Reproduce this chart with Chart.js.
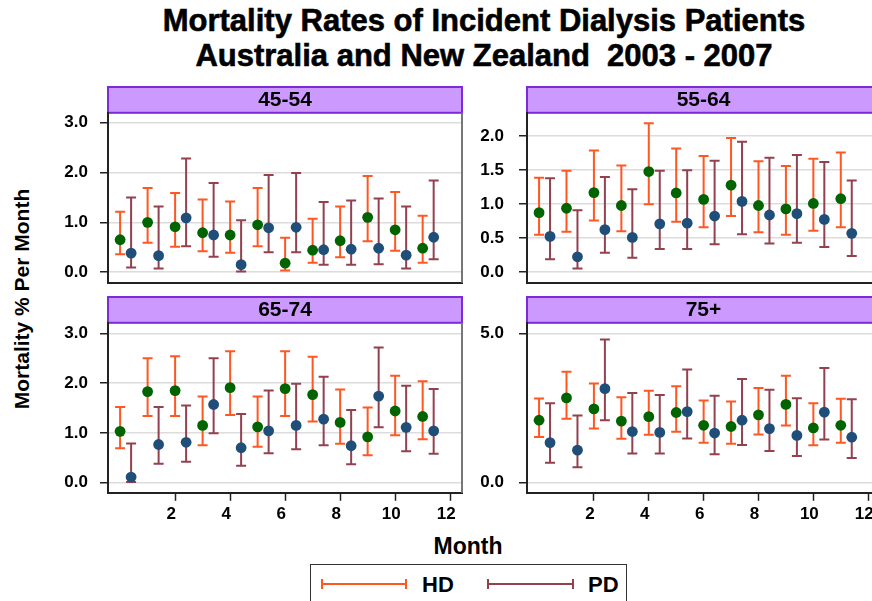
<!DOCTYPE html>
<html><head><meta charset="utf-8">
<script src="https://cdn.jsdelivr.net/npm/chart.js@4/dist/chart.umd.min.js"></script>
<style>
html,body{margin:0;padding:0;background:#fff;overflow:hidden;}
#wrap{position:relative;width:872px;height:601px;overflow:hidden;font-family:"Liberation Sans",Arial,Helvetica,sans-serif;}
.t{position:absolute;font-weight:bold;color:#000;white-space:nowrap;}
canvas{position:absolute;}
#legend{position:absolute;left:310px;top:564px;width:317px;height:60px;border:1px solid #333;box-sizing:border-box;}
.ln{position:absolute;height:2px;top:18px;}
.cap{position:absolute;width:2px;height:10px;top:-4px;}
</style></head><body>
<div id="wrap">
  <div class="t" style="left:0;top:3px;width:968px;text-align:center;font-size:31px;line-height:35px;-webkit-text-stroke:0.6px #000;">Mortality Rates of Incident Dialysis Patients<br>Australia and New Zealand&nbsp; 2003 - 2007</div>
  <div class="t" style="left:22px;top:299px;transform:translate(-50%,-50%) rotate(-90deg);font-size:21px;">Mortality % Per Month</div>
  <canvas id="c1" width="470" height="223" style="left:0;top:86px;"></canvas>
  <canvas id="c2" width="420" height="223" style="left:470px;top:86px;"></canvas>
  <canvas id="c3" width="470" height="227" style="left:0;top:296px;"></canvas>
  <canvas id="c4" width="420" height="227" style="left:470px;top:296px;"></canvas>
  <div class="t" style="left:468px;top:546px;transform:translate(-50%,-50%);font-size:23px;">Month</div>
  <div id="legend">
    <div class="ln" style="left:10px;width:86px;background:#FF5722;"><div class="cap" style="left:0;background:#FF5722;"></div><div class="cap" style="right:0;background:#FF5722;"></div></div>
    <div class="t" style="left:111px;top:7px;font-size:22px;">HD</div>
    <div class="ln" style="left:176px;width:87px;background:#93404F;"><div class="cap" style="left:0;background:#93404F;"></div><div class="cap" style="right:0;background:#93404F;"></div></div>
    <div class="t" style="left:277px;top:7px;font-size:22px;">PD</div>
  </div>
</div>
<script>
// ---- data ----
const panelLabels = ['45-54', '55-64', '65-74', '75+'];
const monthsHD = [0, 1, 2, 3, 4, 5, 6, 7, 8, 9, 10, 11];
const monthsPD = [0.4, 1.4, 2.4, 3.4, 4.4, 5.4, 6.4, 7.4, 8.4, 9.4, 10.4, 11.4];
const xTickValues = [2, 4, 6, 8, 10, 12];

const yTicks_45_54 = [0, 1, 2, 3];
const yTicks_55_64 = [0, 0.5, 1, 1.5, 2];
const yTicks_65_74 = [0, 1, 2, 3];
const yTicks_75 = [0, 5];

const hd_45_54     = [0.65, 1.00, 0.91, 0.79, 0.745, 0.95, 0.18, 0.44, 0.63, 1.10, 0.85, 0.48];
const hdLow_45_54  = [0.36, 0.59, 0.51, 0.42, 0.39, 0.52, 0.03, 0.19, 0.30, 0.62, 0.43, 0.19];
const hdHigh_45_54 = [1.21, 1.69, 1.59, 1.46, 1.42, 1.69, 0.69, 1.07, 1.32, 1.93, 1.61, 1.13];
const pd_45_54     = [0.38, 0.33, 1.09, 0.745, 0.15, 0.89, 0.90, 0.45, 0.46, 0.48, 0.34, 0.70];
const pdLow_45_54  = [0.09, 0.07, 0.52, 0.31, 0.01, 0.40, 0.40, 0.15, 0.15, 0.16, 0.07, 0.26];
const pdHigh_45_54 = [1.50, 1.32, 2.28, 1.79, 1.04, 1.95, 1.99, 1.41, 1.44, 1.48, 1.32, 1.84];

const hd_55_64     = [0.875, 0.94, 1.17, 0.98, 1.48, 1.165, 1.07, 1.28, 0.98, 0.93, 1.01, 1.08];
const hdLow_55_64  = [0.55, 0.595, 0.76, 0.60, 1.00, 0.74, 0.66, 0.825, 0.585, 0.55, 0.61, 0.66];
const hdHigh_55_64 = [1.39, 1.49, 1.79, 1.57, 2.19, 1.82, 1.71, 1.975, 1.63, 1.56, 1.67, 1.76];
const pd_55_64     = [0.525, 0.225, 0.625, 0.51, 0.71, 0.72, 0.825, 1.04, 0.84, 0.86, 0.775, 0.57];
const pdLow_55_64  = [0.19, 0.054, 0.285, 0.21, 0.34, 0.34, 0.41, 0.555, 0.42, 0.43, 0.37, 0.235];
const pdHigh_55_64 = [1.38, 0.91, 1.40, 1.22, 1.49, 1.50, 1.64, 1.92, 1.685, 1.725, 1.62, 1.35];

const hd_65_74     = [1.03, 1.83, 1.85, 1.15, 1.91, 1.12, 1.89, 1.77, 1.21, 0.92, 1.44, 1.33];
const hdLow_65_74  = [0.69, 1.34, 1.34, 0.75, 1.36, 0.72, 1.34, 1.23, 0.78, 0.55, 0.95, 0.87];
const hdHigh_65_74 = [1.52, 2.50, 2.54, 1.73, 2.64, 1.73, 2.64, 2.53, 1.87, 1.51, 2.15, 2.04];
const pd_65_74     = [0.11, 0.765, 0.81, 1.57, 0.70, 1.04, 1.15, 1.275, 0.74, 1.74, 1.11, 1.04];
const pdLow_65_74  = [0.01, 0.38, 0.42, 0.99, 0.34, 0.59, 0.67, 0.75, 0.37, 1.11, 0.63, 0.58];
const pdHigh_65_74 = [0.785, 1.52, 1.55, 2.50, 1.38, 1.85, 1.99, 2.13, 1.46, 2.72, 1.95, 1.88];

const hd_75     = [2.09, 2.84, 2.47, 2.06, 2.21, 2.35, 1.92, 1.88, 2.27, 2.62, 1.83, 1.92];
const hdLow_75  = [1.53, 2.14, 1.81, 1.47, 1.60, 1.70, 1.33, 1.30, 1.61, 1.91, 1.25, 1.33];
const hdHigh_75 = [2.82, 3.72, 3.32, 2.86, 3.08, 3.23, 2.75, 2.72, 3.17, 3.58, 2.66, 2.81];
const pd_75     = [1.34, 1.085, 3.15, 1.71, 1.68, 2.38, 1.66, 2.09, 1.81, 1.58, 2.36, 1.52];
const pdLow_75  = [0.66, 0.51, 2.09, 0.97, 0.97, 1.48, 0.95, 1.26, 1.06, 0.89, 1.44, 0.82];
const pdHigh_75 = [2.66, 2.25, 4.80, 3.00, 2.94, 3.79, 2.91, 3.47, 3.11, 2.83, 3.84, 2.79];

// ---- styles ----
const FONT = '"Liberation Sans", Arial, Helvetica, sans-serif';
const HD_PT = '#006400', HD_BAR = '#FF5722';
const PD_PT = '#1F4E79', PD_BAR = '#93404F';

const stripPlugin = {
  id: 'strip',
  beforeDraw(chart) {
    const {ctx, chartArea: a} = chart;
    ctx.save();
    ctx.fillStyle = '#CC99FF';
    ctx.fillRect(a.left, 0, a.right - a.left, a.top);
    ctx.strokeStyle = '#7B2BD9';
    ctx.lineWidth = 2;
    ctx.strokeRect(a.left, 1, a.right - a.left, a.top - 1);
    ctx.restore();
  },
  afterDraw(chart) {
    const {ctx, chartArea: a} = chart;
    ctx.save();
    ctx.strokeStyle = '#777';
    ctx.lineWidth = 2;
    ctx.beginPath();
    ctx.moveTo(a.right, a.top);
    ctx.lineTo(a.right, a.bottom);
    ctx.stroke();
    ctx.restore();
  }
};

const errorBarPlugin = {
  id: 'errorBars',
  beforeDatasetsDraw(chart) {
    const {ctx, scales: {x, y}} = chart;
    chart.data.datasets.forEach(ds => {
      ctx.save();
      ctx.strokeStyle = ds.barColor;
      ctx.lineWidth = 2;
      ds.data.forEach((pt, i) => {
        const px = x.getPixelForValue(pt.x);
        const lo = y.getPixelForValue(ds.low[i]);
        const hi = y.getPixelForValue(ds.high[i]);
        ctx.beginPath();
        ctx.moveTo(px, lo); ctx.lineTo(px, hi);
        ctx.moveTo(px - 5, lo); ctx.lineTo(px + 5, lo);
        ctx.moveTo(px - 5, hi); ctx.lineTo(px + 5, hi);
        ctx.stroke();
      });
      ctx.restore();
    });
  }
};

function makePanel(id, c) {
  new Chart(document.getElementById(id), {
    type: 'scatter',
    data: {
      datasets: [
        {label: 'HD', data: monthsHD.map((m, i) => ({x: m, y: c.hd[i]})), low: c.hdLow, high: c.hdHigh,
         barColor: HD_BAR, backgroundColor: HD_PT, borderColor: HD_PT, pointRadius: 5.4, borderWidth: 0},
        {label: 'PD', data: monthsPD.map((m, i) => ({x: m, y: c.pd[i]})), low: c.pdLow, high: c.pdHigh,
         barColor: PD_BAR, backgroundColor: PD_PT, borderColor: PD_PT, pointRadius: 5.4, borderWidth: 0}
      ]
    },
    options: {
      responsive: false, animation: false, events: [],
      layout: {padding: {left: 0, right: c.padRight, top: 0, bottom: 0}},
      plugins: {
        legend: {display: false}, tooltip: {enabled: false},
        title: {display: true, text: c.label, fullSize: false, color: '#000',
                font: {family: FONT, size: 21, weight: 'bold'}, padding: {top: 1.6, bottom: 0}}
      },
      scales: {
        x: {
          type: 'linear', min: -0.44, max: 12.43,
          afterBuildTicks: s => { s.ticks = xTickValues.map(v => ({value: v})); },
          afterFit: s => { s.height = c.xH; },
          ticks: {display: c.showX, color: '#000', font: {family: FONT, size: 17, weight: 'bold'},
                  labelOffset: -4, padding: 3, maxRotation: 0, autoSkip: false},
          grid: {drawOnChartArea: false, drawTicks: c.showX, tickLength: 8, tickColor: '#222', tickWidth: 1.5},
          border: {display: true, color: '#222', width: 2}
        },
        y: {
          min: c.yMin, max: c.yMax,
          afterBuildTicks: s => { s.ticks = c.yTicks.map(v => ({value: v})); },
          afterFit: s => { s.width = c.yW; },
          ticks: {color: '#000', font: {family: FONT, size: 17, weight: 'bold'}, padding: c.yPad,
                  callback: v => Number(v).toFixed(1)},
          grid: {color: '#dcdcdc', lineWidth: 1.5, tickLength: 8, tickColor: '#222', tickWidth: 1.5},
          border: {display: true, color: '#222', width: 2}
        }
      }
    },
    plugins: [stripPlugin, errorBarPlugin]
  });
}

// title block = 1.6 + 21*1.2 = 26.8 ; chart area = 170
makePanel('c1', {label: panelLabels[0], hd: hd_45_54, hdLow: hdLow_45_54, hdHigh: hdHigh_45_54,
  pd: pd_45_54, pdLow: pdLow_45_54, pdHigh: pdHigh_45_54, yTicks: yTicks_45_54,
  yMin: -0.215, yMax: 3.2, yW: 108, yPad: 12, padRight: 8, xH: 26.2, showX: false});
makePanel('c2', {label: panelLabels[1], hd: hd_55_64, hdLow: hdLow_55_64, hdHigh: hdHigh_55_64,
  pd: pd_55_64, pdLow: pdLow_55_64, pdHigh: pdHigh_55_64, yTicks: yTicks_55_64,
  yMin: -0.158, yMax: 2.345, yW: 57, yPad: 15, padRight: 10, xH: 26.2, showX: false});
makePanel('c3', {label: panelLabels[2], hd: hd_65_74, hdLow: hdLow_65_74, hdHigh: hdHigh_65_74,
  pd: pd_65_74, pdLow: pdLow_65_74, pdHigh: pdHigh_65_74, yTicks: yTicks_65_74,
  yMin: -0.207, yMax: 3.215, yW: 108, yPad: 12, padRight: 8, xH: 30.2, showX: true});
makePanel('c4', {label: panelLabels[3], hd: hd_75, hdLow: hdLow_75, hdHigh: hdHigh_75,
  pd: pd_75, pdLow: pdLow_75, pdHigh: pdHigh_75, yTicks: yTicks_75,
  yMin: -0.346, yMax: 5.36, yW: 57, yPad: 15, padRight: 10, xH: 30.2, showX: true});
</script>
</body></html>
